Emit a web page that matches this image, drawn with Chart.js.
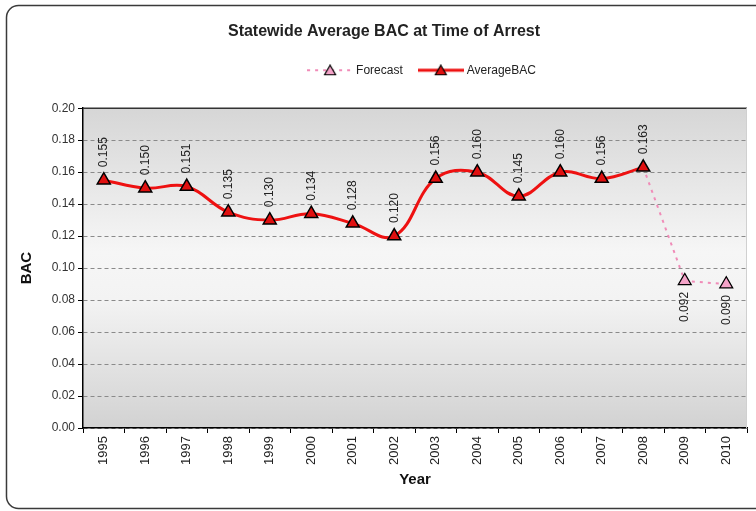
<!DOCTYPE html>
<html>
<head>
<meta charset="utf-8">
<title>Statewide Average BAC at Time of Arrest</title>
<script src="https://cdn.jsdelivr.net/npm/chart.js@4.4.1/dist/chart.umd.min.js"></script>
<style>
  body { margin: 0; background: #fff; }
  #wrap { width: 756px; height: 511px; }
</style>
</head>
<body>
<div id="wrap"><canvas id="bacChart" width="756" height="511"></canvas></div>
<script>
// values ---------------------------------------------------------------->
const years = ['1995', '1996', '1997', '1998', '1999', '2000', '2001', '2002',
               '2003', '2004', '2005', '2006', '2007', '2008', '2009', '2010'];
const averageBac = [0.155, 0.150, 0.151, 0.135, 0.130, 0.134, 0.128, 0.120,
                    0.156, 0.160, 0.145, 0.160, 0.156, 0.163, null, null];
const forecastBac = [null, null, null, null, null, null, null, null,
                     null, null, null, null, null, 0.163, 0.092, 0.090];
const bacTicks = [0, 0.02, 0.04, 0.06, 0.08, 0.10, 0.12, 0.14, 0.16, 0.18, 0.20];

const FONT = "'Liberation Sans', Arial, sans-serif";

// small line + triangle picture for the legend entries
function legendIcon(lineColor, fillColor, dashed) {
    const c = document.createElement('canvas');
    c.width = 46;
    c.height = 12;
    const g = c.getContext('2d');
    g.strokeStyle = lineColor;
    g.lineWidth = dashed ? 2 : 3;
    if (dashed) g.setLineDash([3, 5]);
    g.beginPath();
    g.moveTo(0, 6);
    g.lineTo(46, 6);
    g.stroke();
    g.setLineDash([]);
    g.beginPath();
    g.moveTo(23, 1);
    g.lineTo(28.5, 10.5);
    g.lineTo(17.5, 10.5);
    g.closePath();
    g.fillStyle = fillColor;
    g.fill();
    g.strokeStyle = '#000';
    g.lineWidth = 1.2;
    g.stroke();
    return c;
}

// background, frame and plot shading
const framePlugin = {
    id: 'frame',
    beforeDraw(chart) {
        const { ctx, chartArea: a } = chart;
        ctx.save();
        ctx.fillStyle = '#fff';
        ctx.fillRect(0, 0, chart.width, chart.height);

        ctx.strokeStyle = '#3a3a3a';
        ctx.lineWidth = 1.5;
        ctx.beginPath();
        ctx.roundRect(6.5, 5.5, 770, 503, 12);
        ctx.stroke();

        const grad = ctx.createLinearGradient(0, a.top, 0, a.bottom);
        grad.addColorStop(0, '#d6d6d6');
        grad.addColorStop(0.45, '#f6f6f6');
        grad.addColorStop(0.6, '#f3f3f3');
        grad.addColorStop(1, '#d2d2d2');
        ctx.fillStyle = grad;
        ctx.fillRect(a.left, a.top, a.right - a.left, a.bottom - a.top);
        ctx.restore();
    },
    beforeDatasetsDraw(chart) {
        const { ctx, chartArea: a } = chart;
        ctx.save();
        ctx.strokeStyle = '#333';
        ctx.lineWidth = 1.5;
        ctx.beginPath();
        ctx.moveTo(a.left, a.top);
        ctx.lineTo(a.right, a.top);
        ctx.stroke();
        ctx.strokeStyle = '#d0d0d0';
        ctx.lineWidth = 1;
        ctx.beginPath();
        ctx.moveTo(a.right - 0.5, a.top);
        ctx.lineTo(a.right - 0.5, a.bottom);
        ctx.stroke();
        ctx.restore();
    }
};

// rotated value labels (above the actual points, below the forecast ones)
const valueLabels = {
    id: 'valueLabels',
    afterDatasetsDraw(chart) {
        const ctx = chart.ctx;
        ctx.save();
        ctx.font = '12px ' + FONT;
        ctx.fillStyle = '#222';
        ctx.textBaseline = 'middle';
        chart.data.datasets.forEach((ds, di) => {
            const meta = chart.getDatasetMeta(di);
            meta.data.forEach((pt, i) => {
                const v = ds.data[i];
                if (v === null) return;
                const isForecast = ds.label === 'Forecast';
                if (isForecast && averageBac[i] !== null) return;
                ctx.save();
                if (isForecast) {
                    ctx.translate(pt.x, pt.y + 11);
                    ctx.rotate(-Math.PI / 2);
                    ctx.textAlign = 'right';
                } else {
                    ctx.translate(pt.x, pt.y - 13);
                    ctx.rotate(-Math.PI / 2);
                    ctx.textAlign = 'left';
                }
                ctx.fillText(v.toFixed(3), 0, 0);
                ctx.restore();
            });
        });
        ctx.restore();
    }
};

// extra room under the legend and a nudge to the right, as in the original
const legendPlace = {
    id: 'legendPlace',
    beforeInit(chart) {
        const fit = chart.legend.fit;
        chart.legend.fit = function () {
            fit.call(this);
            this.height += 22;
        };
    },
    afterLayout(chart) {
        chart.legend.left += 39;
        chart.legend.right += 39;
    }
};

const forecastIcon = legendIcon('#f08cb8', '#f4a3c8', true);
const averageIcon = legendIcon('#ee1111', '#e01010', false);

const ctx = document.getElementById('bacChart');
const bacChart = new Chart(ctx, {
    type: 'line',
    data: {
        labels: years,
        datasets: [
            {
                label: 'Forecast',
                data: forecastBac,
                borderColor: '#f08cb8',
                borderWidth: 2,
                borderDash: [3, 5],
                tension: 0,
                pointStyle: 'triangle',
                pointRadius: years.map((y, i) => averageBac[i] === null ? 7.5 : 0),
                pointBackgroundColor: '#f4a3c8',
                pointBorderColor: '#000',
                pointBorderWidth: 1.2,
                order: 2
            },
            {
                label: 'AverageBAC',
                data: averageBac,
                borderColor: '#ee1111',
                borderWidth: 3,
                tension: 0.4,
                pointStyle: 'triangle',
                pointRadius: 7.5,
                pointBackgroundColor: '#e01010',
                pointBorderColor: '#000',
                pointBorderWidth: 1.5,
                order: 1
            }
        ]
    },
    options: {
        responsive: false,
        animation: false,
        layout: { padding: { top: 10, left: 18, right: 6, bottom: 16 } },
        plugins: {
            title: {
                display: true,
                text: 'Statewide Average BAC at Time of Arrest',
                color: '#222',
                font: { family: FONT, size: 16, weight: 'bold' },
                padding: { top: 12, bottom: 5 }
            },
            legend: {
                display: true,
                labels: {
                    color: '#222',
                    font: { family: FONT, size: 12 },
                    usePointStyle: true,
                    pointStyleWidth: 40,
                    padding: 18,
                    generateLabels: () => [
                        { text: 'Forecast', pointStyle: forecastIcon, datasetIndex: 0, fontColor: '#222' },
                        { text: 'AverageBAC', pointStyle: averageIcon, datasetIndex: 1, fontColor: '#222' }
                    ]
                }
            },
            tooltip: { enabled: false }
        },
        scales: {
            x: {
                offset: true,
                grid: {
                    offset: true,
                    drawOnChartArea: false,
                    tickLength: 5,
                    tickColor: '#000'
                },
                border: { color: '#000', width: 1.5 },
                ticks: {
                    color: '#222',
                    font: { family: FONT, size: 13 },
                    minRotation: 90,
                    maxRotation: 90,
                    padding: 3
                },
                title: {
                    display: true,
                    text: 'Year',
                    color: '#111',
                    font: { family: FONT, size: 15, weight: 'bold' },
                    padding: { top: 0, bottom: 6 }
                },
                afterFit: axis => { axis.height = 67; }
            },
            y: {
                min: 0,
                max: 0.2,
                afterBuildTicks: axis => { axis.ticks = bacTicks.map(v => ({ value: v })); },
                grid: {
                    color: '#8a8a8a',
                    tickLength: 5,
                    tickColor: '#000'
                },
                border: { color: '#000', width: 1.5, dash: [4, 3] },
                ticks: {
                    color: '#333',
                    font: { family: FONT, size: 12 },
                    padding: 3,
                    callback: v => v.toFixed(2)
                },
                title: {
                    display: true,
                    text: 'BAC',
                    color: '#111',
                    font: { family: FONT, size: 15, weight: 'bold' },
                    padding: { top: 0, bottom: 0 }
                },
                afterFit: axis => { axis.width = 65; }
            }
        }
    },
    plugins: [framePlugin, valueLabels, legendPlace]
});
</script>
</body>
</html>
